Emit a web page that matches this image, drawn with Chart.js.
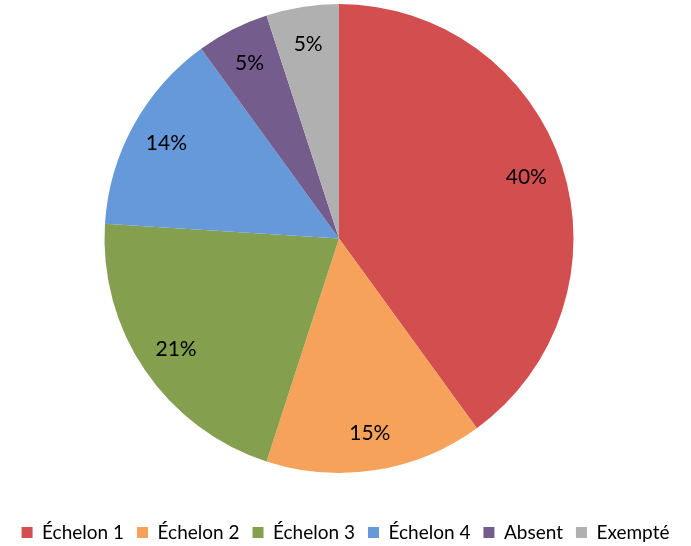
<!DOCTYPE html>
<html><head><meta charset="utf-8">
<script src="https://cdn.jsdelivr.net/npm/chart.js@4"></script>
<style>html,body{margin:0;padding:0;background:#fff;}#wrap{width:691px;height:546px;}</style>
</head><body><div id="wrap"><canvas id="c" width="691" height="546"></canvas></div>
<script>
const categories = ["Échelon 1","Échelon 2","Échelon 3","Échelon 4","Absent","Exempté"];
const values = [40,15,21,14,5,5];
const colors = ["#D34F4F","#F6A25A","#849F4E","#6699DA","#745C8C","#B0B0B0"];
const FONT = "Lato, 'Liberation Sans', sans-serif";
const PAD_BOTTOM = 31, PAD_RIGHT = 13, LEGEND_SHIFT = 37;

const labelPlugin = {
  id:'sliceLabels',
  afterLayout(chart){
    const lg = chart.legend;
    if(!lg) return;
    const dx = PAD_RIGHT/2;
    lg.top += LEGEND_SHIFT; lg.bottom += LEGEND_SHIFT;
    lg.left += dx; lg.right += dx;
  },
  afterDatasetsDraw(chart){
    const ctx = chart.ctx;
    const meta = chart.getDatasetMeta(0);
    const total = values.reduce((a,b)=>a+b,0);
    ctx.save();
    ctx.font = "21px " + FONT;
    ctx.fillStyle = "#000";
    ctx.textAlign = "center";
    ctx.textBaseline = "middle";
    meta.data.forEach((arc,i)=>{
      const mid = (arc.startAngle+arc.endAngle)/2;
      const r = arc.outerRadius*0.84;
      const x = arc.x + Math.cos(mid)*r;
      const y = arc.y + Math.sin(mid)*r;
      ctx.fillText(Math.round(values[i]/total*100)+"%", x, y);
    });
    ctx.restore();
  }
};

new Chart(document.getElementById('c'),{
  type:'pie',
  data:{labels:categories,datasets:[{data:values,backgroundColor:colors,borderWidth:0}]},
  options:{
    responsive:false,animation:false,
    layout:{padding:{top:4,bottom:PAD_BOTTOM,left:0,right:PAD_RIGHT}},
    plugins:{
      tooltip:{enabled:false},
      legend:{position:'bottom',
        labels:{boxWidth:11,boxHeight:11,color:"#000",font:{family:FONT,size:19},padding:13}
      }
    }
  },
  plugins:[labelPlugin]
});
</script></body></html>
